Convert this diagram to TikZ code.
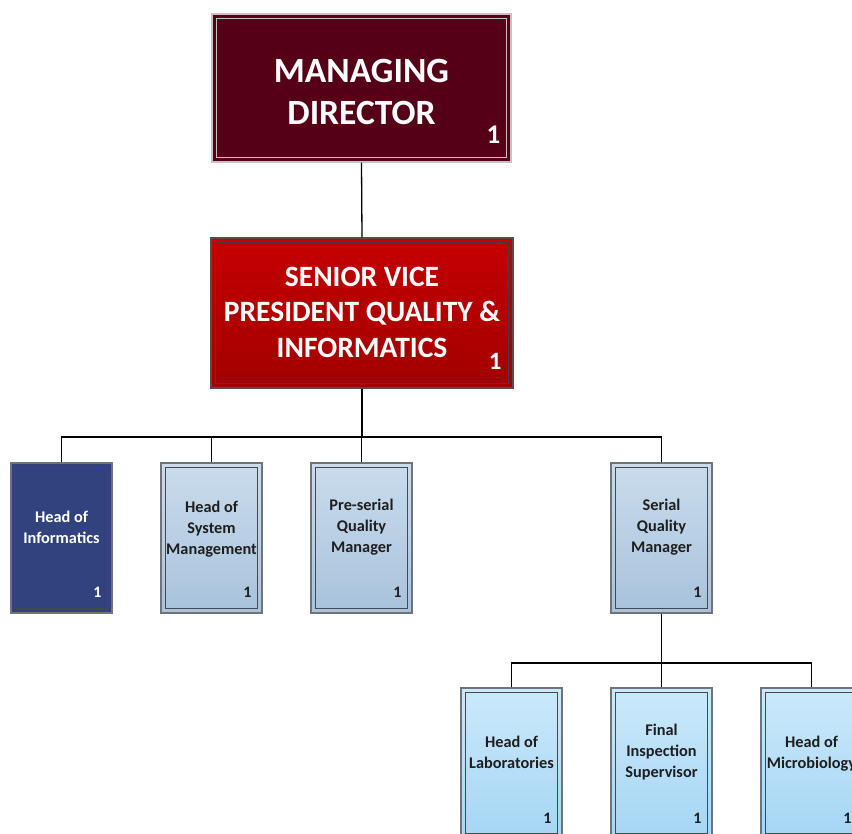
\documentclass[tikz,border=0pt]{standalone}
\usepackage{fontspec}
\setmainfont{Carlito}
\begin{document}
\definecolor{mdfill}{HTML}{560018}
\definecolor{mdline}{HTML}{CDBEC4}
\definecolor{svptop}{HTML}{C40000}
\definecolor{svpbot}{HTML}{A20000}
\definecolor{svpline}{HTML}{5A4A4A}
\definecolor{infofill}{HTML}{32427E}
\definecolor{ltop}{HTML}{CADCEC}
\definecolor{lbot}{HTML}{A8C2DC}
\definecolor{ctop}{HTML}{CBE9FB}
\definecolor{cbot}{HTML}{A5D6F4}
\definecolor{frame}{HTML}{6E747C}
\definecolor{innerl}{HTML}{45484D}
\definecolor{txt}{HTML}{1E1E1E}
\begin{tikzpicture}[x=1pt,y=-1pt,
  font=\bfseries,
  box/.style={rectangle, inner sep=0pt, align=center, line width=1.4pt},
  inset/.style={path picture={\draw[#1, line width=1.6pt]
      ([xshift=4.5pt,yshift=-4.5pt]path picture bounding box.north west) rectangle
      ([xshift=-4.5pt,yshift=4.5pt]path picture bounding box.south east);}},
  topbox/.style={box, minimum width=299pt, minimum height=148pt},
  smallbox/.style={box, minimum width=101pt, minimum height=150pt},
  boxtext/.style={align=center, inner sep=0pt, text=txt,
      font=\bfseries\fontsize{16.3}{21}\selectfont},
  lightbox/.style={smallbox, draw=frame, top color=ltop, bottom color=lbot, inset=innerl},
  cyanbox/.style={smallbox, draw=frame, top color=ctop, bottom color=cbot, inset=innerl},
  navybox/.style={smallbox, draw=frame, fill=infofill, inset=innerl},
  count/.style={anchor=base east, inner sep=0pt, text=txt, font=\bfseries\fontsize{16}{16}\selectfont},
  bigcount/.style={anchor=base east, inner sep=0pt, text=white, font=\bfseries\fontsize{27}{27}\selectfont},
  link/.style={line width=1.3pt, black}
]
\useasboundingbox (0,0) rectangle (852,834);

% top management
\node[topbox, line width=1.2pt, draw=mdline, fill=mdfill,
      path picture={\draw[mdline, line width=1.1pt]
      ([xshift=4.5pt,yshift=-4.5pt]path picture bounding box.north west) rectangle
      ([xshift=-4.5pt,yshift=4.5pt]path picture bounding box.south east);}] (md) at (361.5,88) {};
\node[align=center, inner sep=0pt, text=white, font=\bfseries\fontsize{35.5}{42}\selectfont]
  (mdt) at ([yshift=-4pt]md.center) {MANAGING\\DIRECTOR};
\node[bigcount] (mdn) at ([xshift=-11pt,yshift=19pt]md.south east) {1};

\node[topbox, minimum width=302pt, minimum height=150pt, draw=svpline,
      top color=svptop, bottom color=svpbot, inset=svpline!80!black] (svp) at (362,313) {};
\node[align=center, inner sep=0pt, text=white, font=\bfseries\fontsize{29.5}{35.5}\selectfont]
  (svpt) at ([yshift=1pt]svp.center) {SENIOR VICE\\PRESIDENT QUALITY \&\\INFORMATICS};
\node[bigcount, font=\bfseries\fontsize{25}{25}\selectfont] (svpn) at ([xshift=-12pt,yshift=19pt]svp.south east) {1};

% second level
\node[navybox] (hi) at (61.5,538) {};
\node[boxtext, text=white] (hit) at ([yshift=10.5pt]hi.center) {Head of\\Informatics};
\node[count, text=white] (hin) at ([xshift=-11pt,yshift=16pt]hi.south east) {1};

\node[lightbox] (hs) at (211.5,538) {};
\node[boxtext] (hst) at ([yshift=9pt]hs.center) {Head of\\System\\Management};
\node[count] (hsn) at ([xshift=-11pt,yshift=16pt]hs.south east) {1};

\node[lightbox] (pq) at (361.5,538) {};
\node[boxtext] (pqt) at ([yshift=11pt]pq.center) {Pre-serial\\Quality\\Manager};
\node[count] (pqn) at ([xshift=-11pt,yshift=16pt]pq.south east) {1};

\node[lightbox] (sq) at (661.5,538) {};
\node[boxtext] (sqt) at ([yshift=11pt]sq.center) {Serial\\Quality\\Manager};
\node[count] (sqn) at ([xshift=-11pt,yshift=16pt]sq.south east) {1};

% third level
\node[cyanbox] (hl) at (511.5,763) {};
\node[boxtext] (hlt) at ([yshift=10.5pt]hl.center) {Head of\\Laboratories};
\node[count] (hln) at ([xshift=-11pt,yshift=15pt]hl.south east) {1};

\node[cyanbox] (fi) at (661.5,763) {};
\node[boxtext] (fit) at ([yshift=11pt]fi.center) {Final\\Inspection\\Supervisor};
\node[count] (fin) at ([xshift=-11pt,yshift=15pt]fi.south east) {1};

\node[cyanbox] (hm) at (811.5,763) {};
\node[boxtext] (hmt) at ([yshift=9pt]hm.center) {Head of\\Microbiology};
\node[count] (hmn) at ([xshift=-11pt,yshift=15pt]hm.south east) {1};

% reporting lines
\coordinate (busa) at (0,437);
\coordinate (busb) at (0,663);
\draw[link] (md.south) -- (svp.north);
\foreach \n in {hi,hs,pq,sq}
  \draw[link] (svp.south) |- (busa -| \n.north) -- (\n.north);
\foreach \n in {hl,fi,hm}
  \draw[link] (sq.south) |- (busb -| \n.north) -- (\n.north);
\end{tikzpicture}
\end{document}
